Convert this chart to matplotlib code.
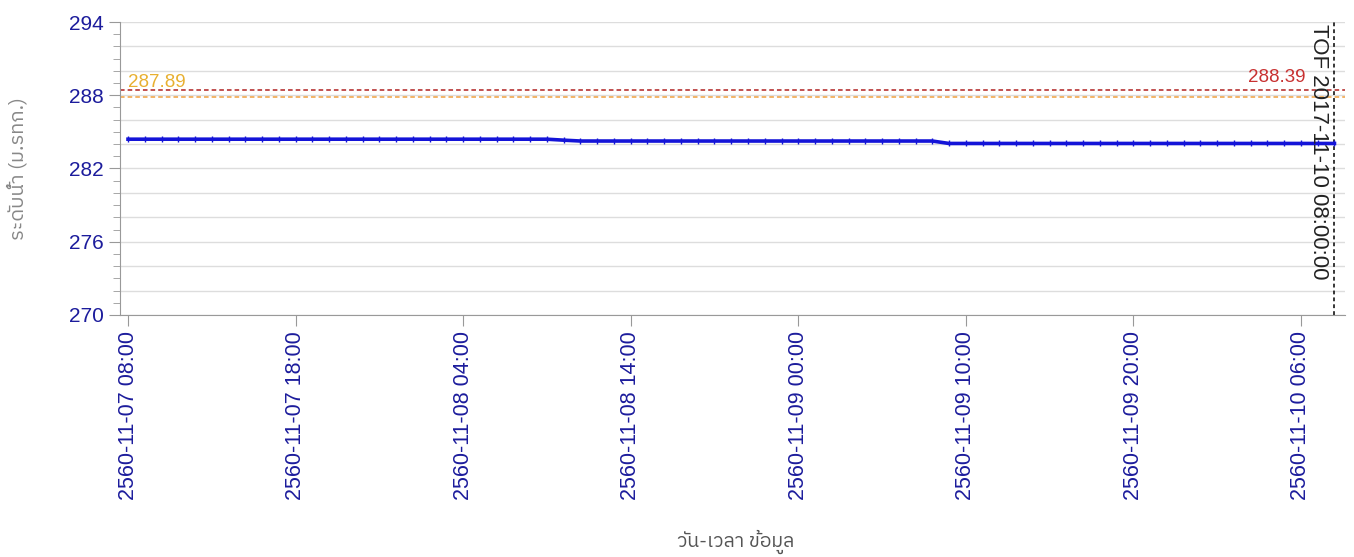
import matplotlib
matplotlib.use('Agg')
import matplotlib.pyplot as plt
from matplotlib import font_manager
from matplotlib.ticker import MultipleLocator

# pick a font that can draw Thai, fall back to DejaVu
names = set(f.name for f in font_manager.fontManager.ttflist)
thai = sorted(n for n in names if 'Thai' in n)
families = (thai[:1] if thai else []) + ['DejaVu Sans']
plt.rcParams['font.family'] = families
narrow = 'Liberation Sans Narrow' if 'Liberation Sans Narrow' in names else 'Liberation Sans'

# hourly water level, 2560-11-07 08:00 .. 2560-11-10 08:00
hours = list(range(73))
level = ([284.40] * 26 + [284.32] + [284.25] * 22 + [284.05] * 24)

tick_hours = [0, 10, 20, 30, 40, 50, 60, 70]
tick_labels = ['2560-11-07 08:00', '2560-11-07 18:00', '2560-11-08 04:00',
               '2560-11-08 14:00', '2560-11-09 00:00', '2560-11-09 10:00',
               '2560-11-09 20:00', '2560-11-10 06:00']

warn_level = 287.89
crit_level = 288.39
tof_hour = 72
tof_label = 'TOF 2017-11-10 08:00:00'

navy = '#1c1c9c'
fig = plt.figure(figsize=(13.54, 5.57), dpi=100)
ax = fig.add_axes([0.0886, 0.4345, 0.9044, 0.526])

ax.plot(hours, level, color='#1414d8', lw=2.6, marker='|', ms=4, mew=1, zorder=3)

ax.axhline(crit_level, color='#b02020', ls='--', lw=1.1, dashes=(3, 2))
ax.axhline(warn_level, color='#f0a040', ls='--', lw=1.1, dashes=(3, 2))
ax.text(0, warn_level + 0.45, f'{warn_level:.2f}', color='#e8b030', fontsize=13.5,
        va='bottom', ha='left', family='Liberation Sans')
ax.text(tof_hour - 1.7, crit_level + 0.35, f'{crit_level:.2f}', color='#c83030',
        fontsize=13.5, va='bottom', ha='right', family='Liberation Sans')

ax.axvline(tof_hour, color='black', ls='--', lw=1.1, dashes=(2.5, 2))
ax.text(tof_hour - 0.3, 293.8, tof_label, rotation=-90, fontsize=16,
        va='top', ha='right', color='#222222', family='Liberation Sans')

ax.set_xlim(-0.48, 72.6)
ax.set_ylim(270, 294)
ax.set_xticks(tick_hours)
ax.set_xticklabels(tick_labels, rotation=90, color=navy, fontsize=15.5, family=narrow)
ax.yaxis.set_major_locator(MultipleLocator(6))
ax.yaxis.set_minor_locator(MultipleLocator(1))
for lab in ax.get_yticklabels():
    lab.set_family(narrow)
ax.tick_params(axis='y', colors='#999999', labelcolor=navy, labelsize=15, length=8)
ax.tick_params(axis='y', which='minor', colors='#999999', length=5)
ax.tick_params(axis='x', colors='#999999', labelcolor=navy, length=8)

for y in range(270, 295, 2):
    ax.axhline(y, color='#dddddd', lw=1, zorder=0)

for s in ['top', 'right']:
    ax.spines[s].set_visible(False)
for s in ['left', 'bottom']:
    ax.spines[s].set_color('#999999')

ax.set_ylabel('ระดับน้ำ (ม.รทก.)', color='#888888', fontsize=14.5, labelpad=30)
fig.text(0.543, 0.018, 'วัน-เวลา ข้อมูล', color='#555555', fontsize=14, ha='center')

fig.savefig('out.png', dpi=100)
